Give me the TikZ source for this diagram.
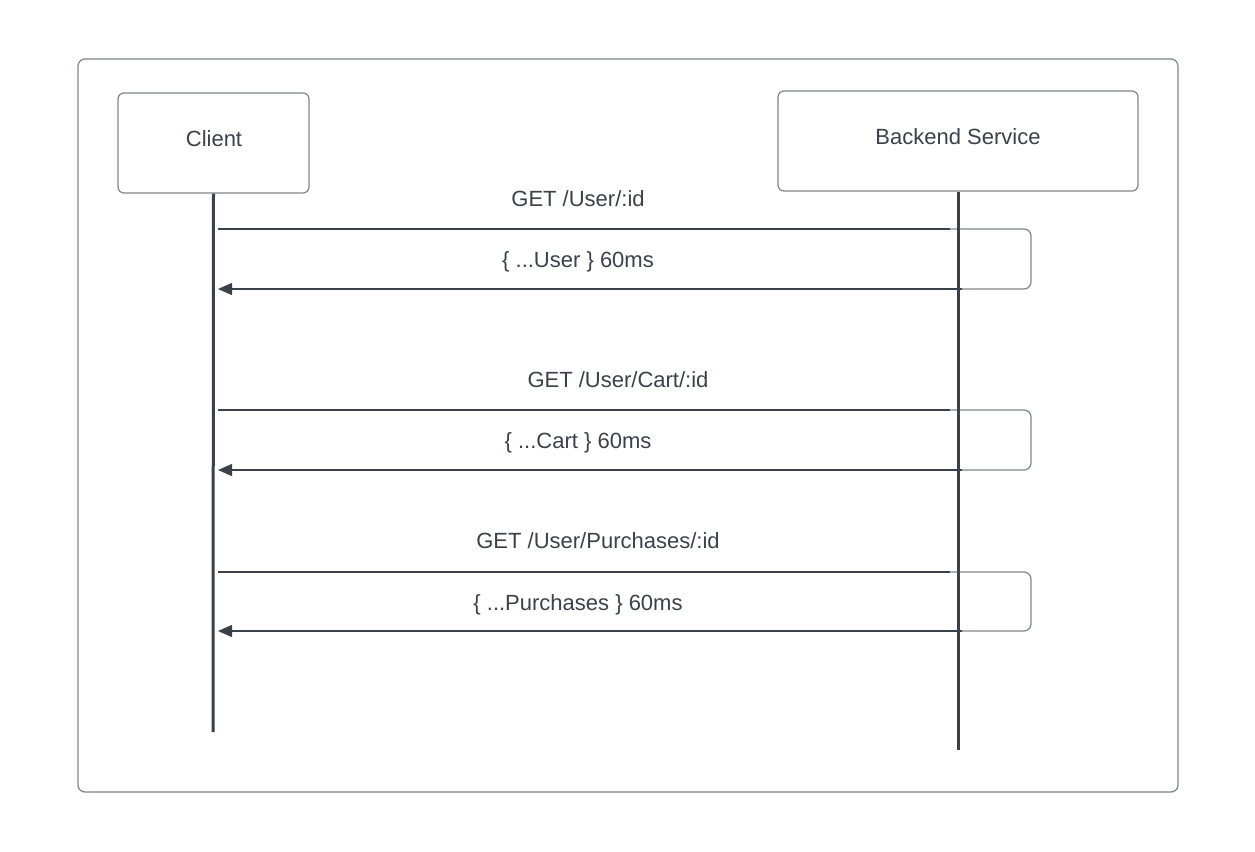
\documentclass[tikz,border=0pt]{standalone}
\usepackage{fontspec}
\setmainfont{Liberation Sans}
\usetikzlibrary{arrows.meta,calc}
\definecolor{ink}{HTML}{3A414A}
\definecolor{rim}{HTML}{7F848B}
\tikzset{
  actor/.style={draw=rim, line width=1.2pt, rounded corners=6pt, text=ink, font=\fontsize{22}{26}\selectfont},
  lifeline/.style={draw=ink, line width=3pt},
  msg/.style={draw=ink, line width=1.2pt},
  loopback/.style={draw=rim, line width=1.2pt, rounded corners=7pt},
  lbl/.style={text=ink, font=\fontsize{22}{26}\selectfont},
}
\begin{document}
\begin{tikzpicture}[x=1pt,y=-1pt]
\useasboundingbox (0,0) rectangle (1255,851);
\draw [draw=rim, line width=1.2pt, rounded corners=7pt] (78,59) rectangle (1178,792);
% participants
\node [actor, minimum width=191pt, minimum height=100pt] (client) at (213.5,143) {};
\node [text=ink, font=\fontsize{22}{26}\selectfont] (clientname) at (214,139) {Client};
\node [actor, minimum width=360pt, minimum height=100pt] (backend) at (958,141) {};
\node [text=ink, font=\fontsize{22}{26}\selectfont] (backendname) at (958,137) {Backend Service};
\coordinate (clientend) at (213,732);
\coordinate (backendend) at (958,750);
% calls
\coordinate (c1) at (218,229); \coordinate (b1) at (950,229); \coordinate (r1) at (1031,229);
\coordinate (c2) at (218,289); \coordinate (b2) at (962,289); \coordinate (r2) at (1031,289);
\coordinate (c3) at (218,410); \coordinate (b3) at (950,410); \coordinate (r3) at (1031,410);
\coordinate (c4) at (218,470); \coordinate (b4) at (962,470); \coordinate (r4) at (1031,470);
\coordinate (c5) at (218,572); \coordinate (b5) at (950,572); \coordinate (r5) at (1031,572);
\coordinate (c6) at (218,631); \coordinate (b6) at (962,631); \coordinate (r6) at (1031,631);
\draw [loopback] (b1) -- (r1) -- (r2) -- (b2);
\draw [loopback] (b3) -- (r3) -- (r4) -- (b4);
\draw [loopback] (b5) -- (r5) -- (r6) -- (b6);
\draw [msg] (c1) -- (b1);
\draw [msg, -{Triangle[length=14pt,width=12pt]}] (b2) -- (c2);
\draw [msg] (c3) -- (b3);
\draw [msg, -{Triangle[length=14pt,width=12pt]}] (b4) -- (c4);
\draw [msg] (c5) -- (b5);
\draw [msg, -{Triangle[length=14pt,width=12pt]}] (b6) -- (c6);
\draw [lifeline] (client.south) -- (clientend);
\draw [lifeline] (backend.south) -- (backendend);
% labels
\node [lbl] (get1) at (578,199) {GET /User/:id};
\node [lbl] (ret1) at (578,262) {\{ ...User \} 60ms};
\node [lbl] (get2) at (618,380) {GET /User/Cart/:id};
\node [lbl] (ret2) at (578,443) {\{ ...Cart \} 60ms};
\node [lbl] (get3) at (598,541) {GET /User/Purchases/:id};
\node [lbl] (ret3) at (578,605) {\{ ...Purchases \} 60ms};
\end{tikzpicture}
\end{document}
